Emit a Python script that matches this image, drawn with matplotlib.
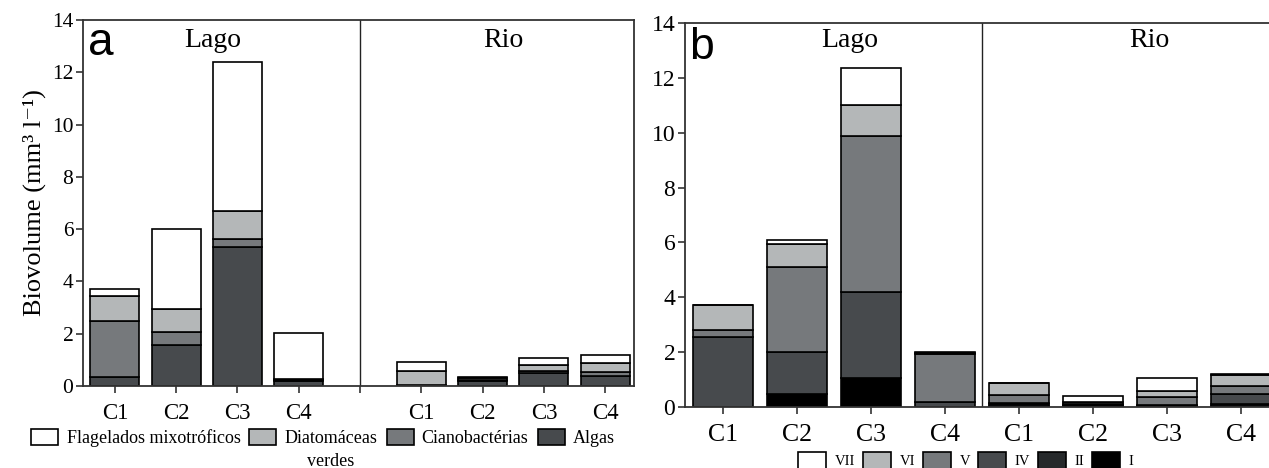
import matplotlib
matplotlib.use("Agg")
import matplotlib.pyplot as plt
from matplotlib.patches import Patch
import numpy as np

# panel a: groups (bottom -> top)
sites = ["C1", "C2", "C3", "C4"]
algas_lago = [0.36, 1.57, 5.30, 0.20]
ciano_lago = [2.14, 0.51, 0.31, 0.03]
diatom_lago = [0.96, 0.85, 1.10, 0.03]
flag_lago = [0.26, 3.09, 5.67, 1.75]
algas_rio = [0.04, 0.19, 0.50, 0.40]
ciano_rio = [0.01, 0.05, 0.08, 0.12]
diatom_rio = [0.52, 0.05, 0.21, 0.36]
flag_rio = [0.35, 0.05, 0.27, 0.31]
labels_a = ["Flagelados mixotróficos", "Diatomáceas", "Cianobactérias", "Algas"]

# panel b: functional groups (bottom -> top), Lago C1..C4 then Rio C1..C4
grp_I = [0.00, 0.46, 1.06, 0.00, 0.05, 0.04, 0.05, 0.05]
grp_II = [0.00, 0.02, 0.00, 0.00, 0.05, 0.04, 0.02, 0.05]
grp_IV = [2.55, 1.52, 3.13, 0.20, 0.05, 0.04, 0.02, 0.37]
grp_V = [0.25, 3.10, 5.68, 1.74, 0.29, 0.05, 0.29, 0.31]
grp_VI = [0.91, 0.85, 1.13, 0.03, 0.44, 0.02, 0.22, 0.37]
grp_VII = [0.02, 0.13, 1.36, 0.03, 0.01, 0.20, 0.45, 0.04]
labels_b = ["VII", "VI", "V", "IV", "II", "I"]

c_white = "#ffffff"
c_light = "#b4b7b8"
c_mid = "#76797c"
c_dark = "#474a4d"
c_vdark = "#26292b"
c_black = "#000000"

serif = ["Liberation Serif", "DejaVu Serif"]
plt.rcParams["font.family"] = serif

fig = plt.figure(figsize=(12.69, 4.68), dpi=100)
W, H = 1269.0, 468.0

def ax_at(l, t, r, b):
    return fig.add_axes([l / W, 1 - b / H, (r - l) / W, (b - t) / H])

def style_axis(ax, ysize, xsize):
    for s in ax.spines.values():
        s.set_linewidth(1.3)
        s.set_color("#333333")
    ax.tick_params(direction="out", length=5, width=1.2, color="#333333")
    ax.tick_params(axis="y", labelsize=ysize, pad=2)
    ax.tick_params(axis="x", labelsize=xsize, pad=7)
    ax.set_ylim(0, 14)
    ax.set_yticks(range(0, 15, 2))

ec = dict(edgecolor="black", linewidth=1.2)

# ---------- panel a ----------
ax1 = ax_at(83, 20, 634, 386)
xl = np.arange(4)
xr = np.arange(4) + 5
w = 0.8
stack_a = [(algas_lago, algas_rio, c_dark), (ciano_lago, ciano_rio, c_mid),
           (diatom_lago, diatom_rio, c_light), (flag_lago, flag_rio, c_white)]
bot_l = np.zeros(4)
bot_r = np.zeros(4)
for vl, vr, col in stack_a:
    ax1.bar(xl, vl, w, bottom=bot_l, color=col, **ec, zorder=2)
    ax1.bar(xr, vr, w, bottom=bot_r, color=col, **ec, zorder=2)
    bot_l += np.array(vl)
    bot_r += np.array(vr)
ax1.axvline(4, color="#222222", linewidth=1.0)
ax1.set_xlim(-0.52, 8.47)
style_axis(ax1, 15.5, 16.5)
ax1.set_xticks(range(9))
ax1.set_xticklabels(sites + [""] + sites)
ax1.set_ylabel("Biovolume (mm³ l⁻¹)", fontsize=19, labelpad=4)
ax1.text(1.6, 12.97, "Lago", ha="center", va="baseline", fontsize=20)
ax1.text(6.33, 12.97, "Rio", ha="center", va="baseline", fontsize=20)
ax1.text(-0.44, 13.95, "a", ha="left", va="top", fontsize=33, family="Liberation Sans")

handles_a = [Patch(facecolor=c, edgecolor="black", linewidth=1.2)
             for c in [c_white, c_light, c_mid, c_dark]]
leg_a = fig.legend(handles_a, labels_a, loc="center", ncol=4,
                   bbox_to_anchor=(323 / W, 1 - 438 / H), frameon=False,
                   fontsize=13, handlelength=1.5, handleheight=1.05,
                   handletextpad=0.45, columnspacing=0.5, borderaxespad=0,
                   borderpad=0)

# ---------- panel b ----------
ax2 = ax_at(685, 23, 1278, 407)
xb = np.arange(8)
wb = 0.81
stack_b = [(grp_I, c_black), (grp_II, c_vdark), (grp_IV, c_dark),
           (grp_V, c_mid), (grp_VI, c_light), (grp_VII, c_white)]
bot = np.zeros(8)
for vals, col in stack_b:
    ax2.bar(xb, vals, wb, bottom=bot, color=col, **ec, zorder=2)
    bot += np.array(vals)
ax2.axvline(3.5, color="#222222", linewidth=1.0)
ax2.set_xlim(-0.51, 7.5)
style_axis(ax2, 17, 18.5)
ax2.set_xticks(xb)
ax2.set_xticklabels(sites + sites)
ax2.text(1.72, 13.12, "Lago", ha="center", va="baseline", fontsize=20)
ax2.text(5.76, 13.12, "Rio", ha="center", va="baseline", fontsize=20)
ax2.text(-0.45, 13.85, "b", ha="left", va="top", fontsize=32, family="Liberation Sans")

handles_b = [Patch(facecolor=c, edgecolor="black", linewidth=1.2)
             for c in [c_white, c_light, c_mid, c_dark, c_vdark, c_black]]
fig.legend(handles_b, labels_b, loc="upper center", ncol=6,
           bbox_to_anchor=(966 / W, 1 - 452 / H), frameon=False,
           fontsize=10.5, handlelength=1.9, handleheight=1.4,
           handletextpad=0.6, columnspacing=0.55, borderaxespad=0,
           borderpad=0)

# second line of the "Diatomáceas verdes" entry, centred under the first
fig.canvas.draw()
t = leg_a.get_texts()[1]
bb = t.get_window_extent()
fig.text((bb.x0 + bb.x1) / 2 / W, (bb.y0 - 6) / H, "verdes", ha="center",
         va="top", fontsize=13)

fig.savefig("out.png", dpi=100)
